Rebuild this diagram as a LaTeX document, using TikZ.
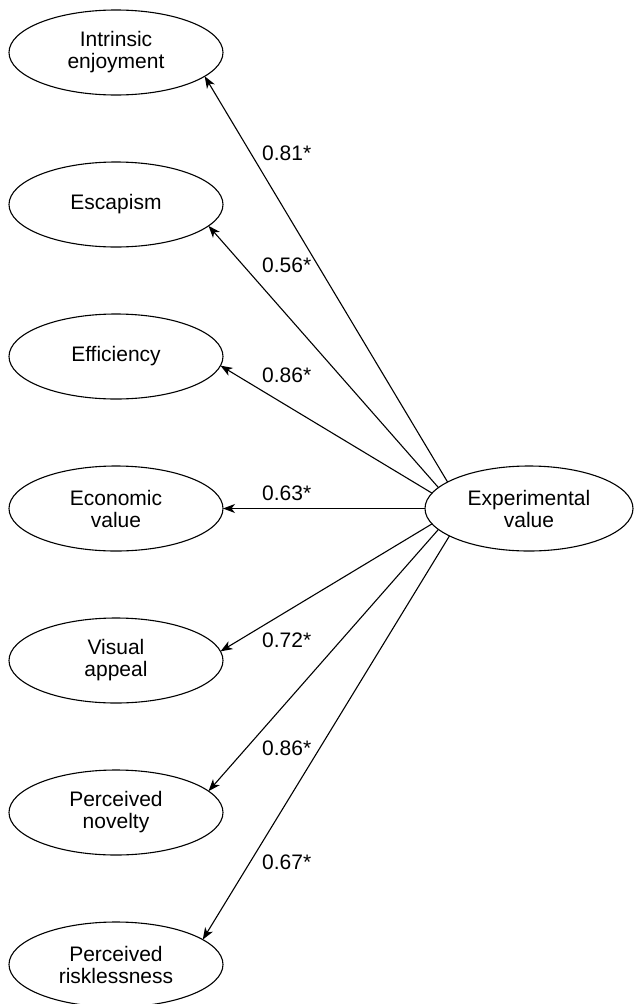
\documentclass[tikz,border=0pt]{standalone}
\usepackage{fontspec}
\setmainfont{Liberation Sans}
\usetikzlibrary{shapes.geometric,arrows.meta}
\begin{document}
\begin{tikzpicture}[x=1pt,y=1pt,
  var/.style={ellipse,draw,line width=1.1pt,minimum width=214pt,minimum height=85pt,
    inner sep=0pt,outer sep=0pt,align=center,font=\fontsize{21}{22}\selectfont},
  conn/.style={line width=1.1pt,-{Stealth[length=12pt,width=9pt,inset=3.5pt]}},
  coef/.style={anchor=west,inner sep=0pt,text depth=0pt,font=\fontsize{21}{22}\selectfont}]
\useasboundingbox (0,0) rectangle (634,-1004);

\node[var] (ie) at (116,-52.5) {Intrinsic\\enjoyment};
\node[var] (es) at (116,-204.5) {Escapism};
\node[var] (ef) at (116,-356.5) {Efficiency};
\node[var] (ec) at (116,-508.5) {Economic\\value};
\node[var] (va) at (116,-660.5) {Visual\\appeal};
\node[var] (pn) at (116,-812.5) {Perceived\\novelty};
\node[var] (pr) at (116,-964.5) {Perceived\\risklessness};

\node[var,minimum width=208pt] (ev) at (529,-508.5) {Experimental\\value};

\draw[conn] (ev.162) -- (ie.-15);
\draw[conn] (ev.167) -- (es.-13);
\draw[conn] (ev.171) -- (ef.-5);
\draw[conn] (ev.180) -- (ec.0);
\draw[conn] (ev.189) -- (va.5);
\draw[conn] (ev.193) -- (pn.13);
\draw[conn] (ev.199) -- (pr.16);

\node[coef] (l1) at (262,-153) {0.81*};
\node[coef] (l2) at (262,-265) {0.56*};
\node[coef] (l3) at (262,-375) {0.86*};
\node[coef] (l4) at (262,-493) {0.63*};
\node[coef] (l5) at (262,-640) {0.72*};
\node[coef] (l6) at (262,-748) {0.86*};
\node[coef] (l7) at (262,-862) {0.67*};
\end{tikzpicture}
\end{document}
